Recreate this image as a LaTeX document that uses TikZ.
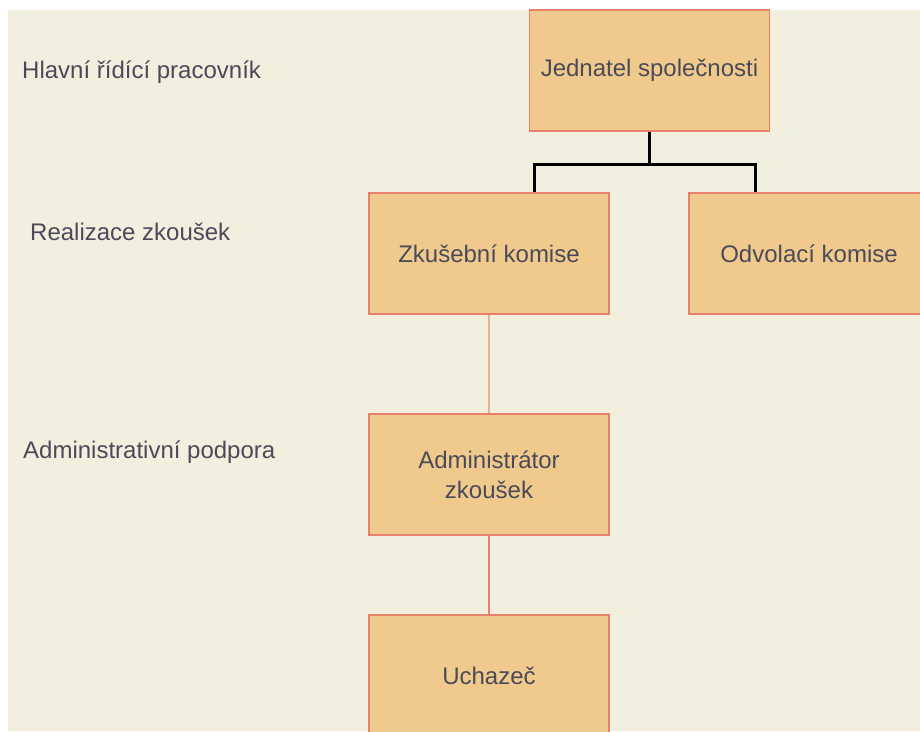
\documentclass[tikz,border=0pt]{standalone}
\usepackage{fontspec}
\setmainfont{Liberation Sans}
\usetikzlibrary{calc}
\definecolor{bgcream}{HTML}{F3EFDE}
\definecolor{boxfill}{HTML}{F0CA8C}
\definecolor{boxline}{HTML}{E8806A}
\definecolor{linkpink}{HTML}{EBAE98}
\definecolor{txtgray}{HTML}{4A4A5A}

\begin{document}
\begin{tikzpicture}[x=1pt,y=-1pt,
  box/.style={draw=boxline,line width=1.5pt,fill=boxfill,minimum width=240pt,minimum height=121pt,inner sep=0pt,align=center,text=txtgray,font=\fontsize{24}{30}\selectfont},
  level/.style={anchor=west,inner sep=0pt,text=txtgray,font=\fontsize{24}{28}\selectfont}]
\useasboundingbox (0,0) rectangle (920,731);
\clip (0,0) rectangle (920,731);
\fill[bgcream] (8,10) rectangle (920,731);
% levels
\node[level] (hlavni) at (22,72){Hlavní řídící pracovník};
\node[level] (realizace) at (30,232){Realizace zkoušek};
\node[level] (podpora) at (23,452){Administrativní podpora};
% boxes
\node[box] (jednatel) at (649.5,70.5){Jednatel společnosti};
\node[box] (zkusebni) at (489,253.5){Zkušební komise};
\node[box] (odvolaci) at (809,253.5){Odvolací komise};
\node[box] (admin) at (489,474.5){Administrátor\\zkoušek};
\node[box] (uchazec) at (489,675.5){Uchazeč};
% links
\draw[line width=3pt] (jednatel.south) -- ++(0,33) -| ($(zkusebni.north)+(45,0)$);
\draw[line width=3pt] (jednatel.south) -- ++(0,33) -| ($(odvolaci.north)+(-54,0)$);
\draw[linkpink,line width=1.5pt] (zkusebni) -- (admin);
\draw[boxline,line width=1.5pt] (admin) -- (uchazec);
\end{tikzpicture}
\end{document}
